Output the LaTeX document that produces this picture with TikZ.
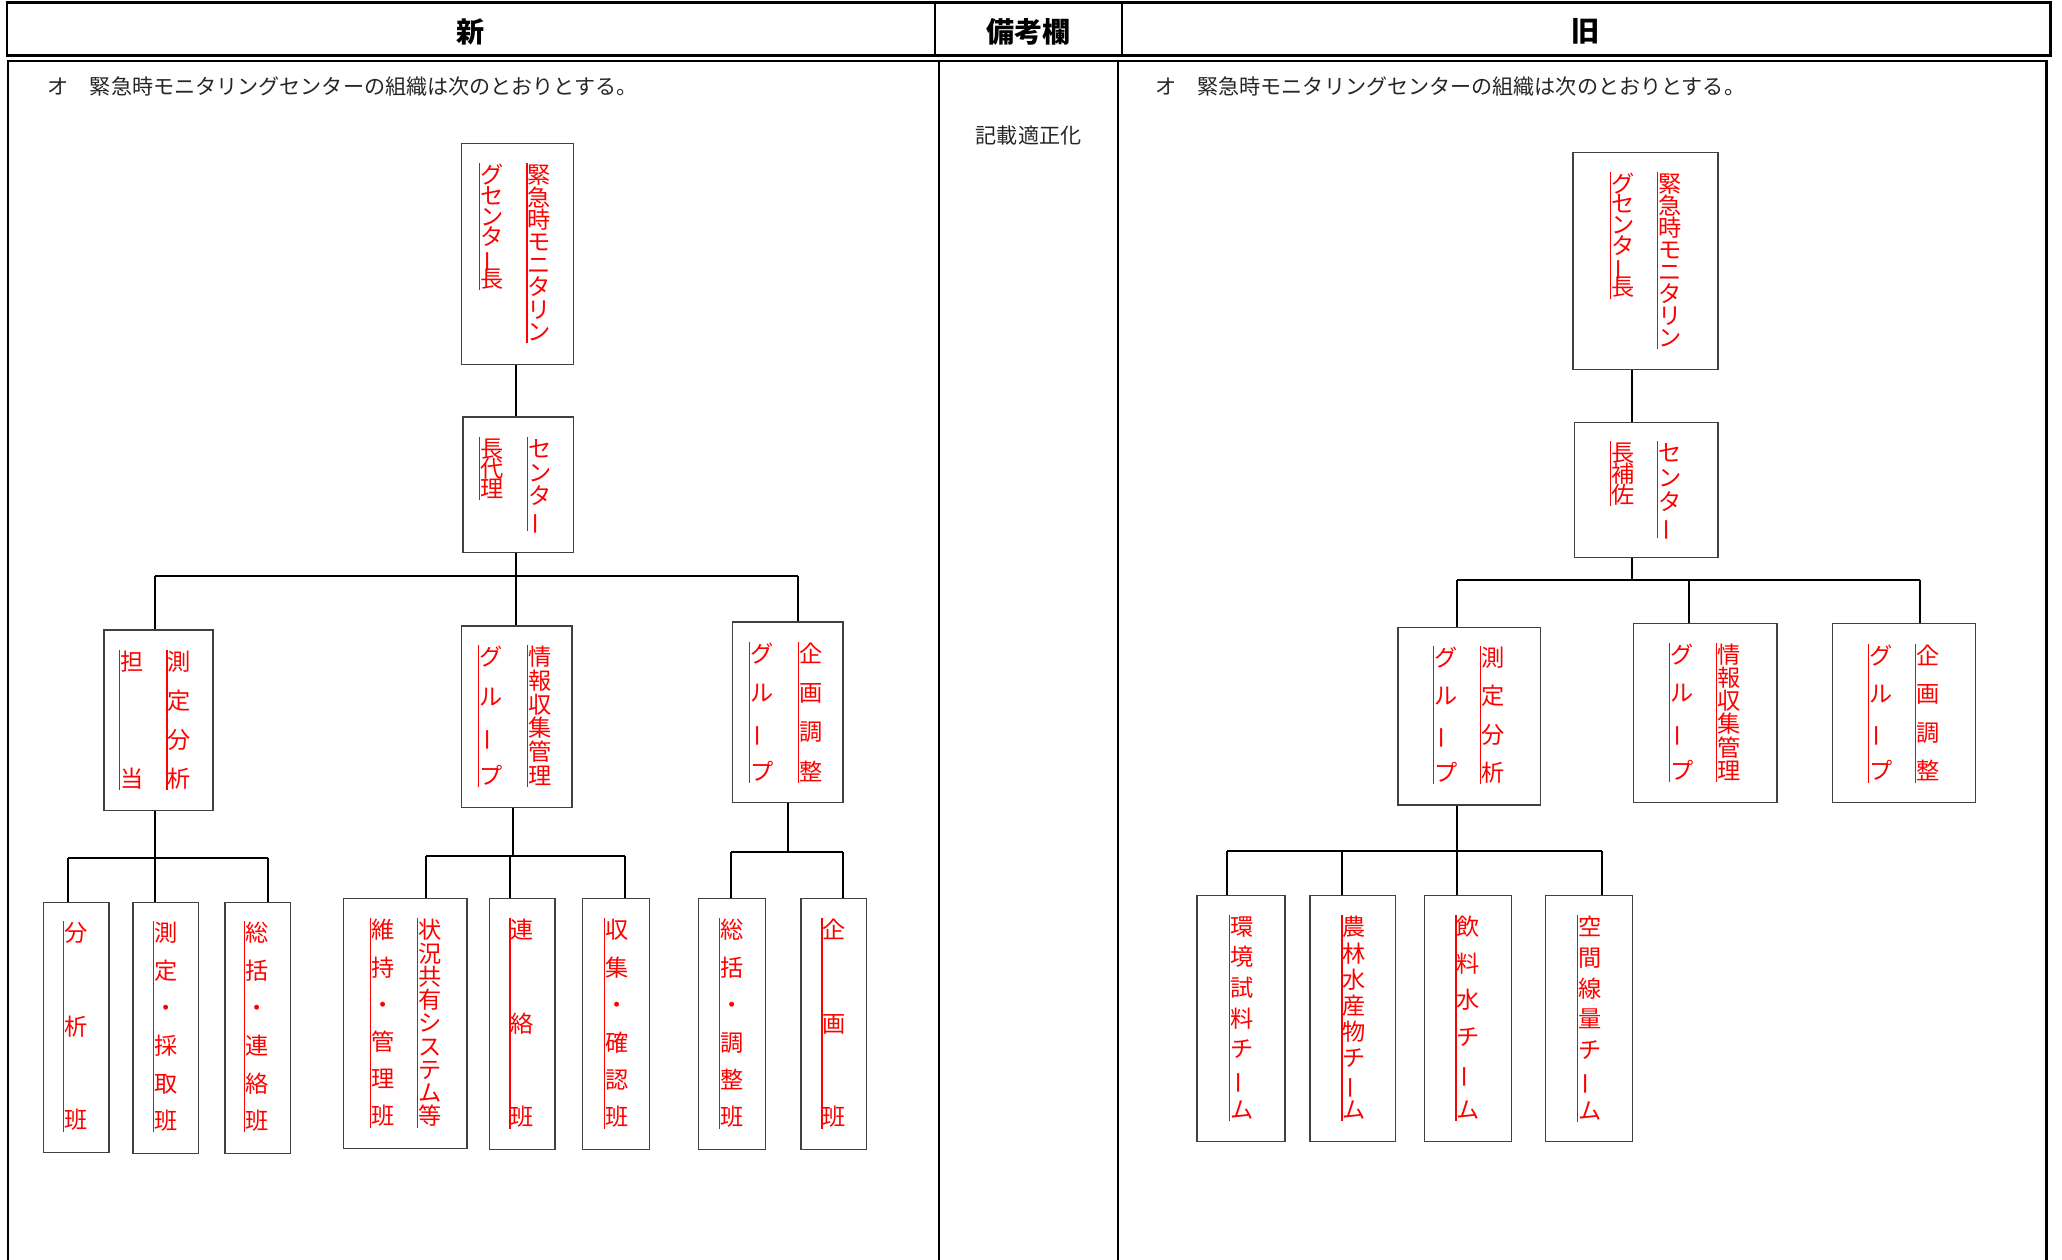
\documentclass[tikz,border=0pt]{standalone}
\usepackage{fontspec}
\setmainfont{Noto Sans CJK JP}
\usepackage{graphicx}
\usepackage{tikz}
\usetikzlibrary{fit}

\newcommand\vl[1]{\rotatebox[origin=c]{90}{#1}}
\newcommand\vcol[5]{%
  \draw[uline] (#2,#3) -- (#2,#4);
  \foreach \ch [count=\k] in {#5} {\xdef\vnum{\k}}
  \foreach \ch [count=\k] in {#5} {
    \pgfmathsetmacro\vy{#3+8.8+(\k-1)*(#4-#3-17.6)/max(\vnum-1,1)}
    \node[vchar] (#1-\k) at (#2+9.5,\vy) {\ch};
  }
}

\begin{document}
\begin{tikzpicture}[x=0.01973cm,y=-0.01973cm,
    frame/.style={line width=1pt},
    unit/.style={draw=black!75,line width=0.6pt,inner sep=0pt},
    link/.style={line width=0.8pt},
    uline/.style={red,line width=0.5pt},
    vchar/.style={red,inner sep=0pt,font=\fontsize{9.9pt}{10pt}\selectfont,text height=0.88em,text depth=0.12em},
    head/.style={font=\fontsize{12pt}{14pt}\selectfont\bfseries,inner sep=0pt},
    plain/.style={font=\fontsize{9pt}{11pt}\selectfont,text=black!85,inner sep=0pt}]
  \useasboundingbox (0,0) rectangle (1567.7,957.9);

  \draw[frame] (5.5,2) rectangle (1559,42.3);
  \draw[frame] (711,2) -- (711,42.3) (852.8,2) -- (852.8,42.3);
  \draw[frame] (6,957.9) -- (6,46.4) -- (1556,46.4) -- (1556,957.9);
  \draw[frame] (714,46.4) -- (714,957.9) (850.2,46.4) -- (850.2,957.9);
  \node[head] (hNew) at (358,24) {新};
  \node[head] (hNote) at (782,24) {備考欄};
  \node[head] (hOld) at (1205.5,24) {旧};
  \node[plain,anchor=west] (tNew) at (36,66) {オ　緊急時モニタリングセンターの組織は次のとおりとする。};
  \node[plain,anchor=west] (tOld) at (878,66) {オ　緊急時モニタリングセンターの組織は次のとおりとする。};
  \node[plain] (tNote) at (782,103) {記載適正化};

  \node[unit,fit={(351,109)(436,277)}] (lChief) {};
  \vcol{lChiefR}{400.7}{124}{261}{緊,急,時,モ,ニ,タ,リ,ン}
  \vcol{lChiefL}{364.4}{124}{220.7}{グ,セ,ン,タ,\vl{ー},長}
  \node[unit,fit={(352,317)(436,420)}] (lDep) {};
  \vcol{lDepR}{401}{332}{404}{セ,ン,タ,\vl{ー}}
  \vcol{lDepL}{364.6}{332}{380}{長,代,理}

  \node[unit,fit={(79,479)(162,616)}] (lSokutei) {};
  \vcol{lSokuteiR}{127}{494}{600.7}{測,定,分,析}
  \vcol{lSokuteiL}{90.6}{494}{600.7}{担,当}
  \node[unit,fit={(351,476)(435,614)}] (lJoho) {};
  \vcol{lJohoR}{400.9}{490.4}{598.4}{情,報,収,集,管,理}
  \vcol{lJohoL}{363.8}{490.4}{598.4}{グ,ル,\vl{ー},プ}
  \node[unit,fit={(557,473)(641,610)}] (lKikaku) {};
  \vcol{lKikakuR}{606.9}{487.8}{595.2}{企,画,調,整}
  \vcol{lKikakuL}{569.8}{487.8}{595.2}{グ,ル,\vl{ー},プ}

  \node[unit,fit={(33,686)(83,876)}] (lBunseki) {};
  \vcol{lBunsekiC}{48.2}{700.4}{860.3}{分,析,班}
  \node[unit,fit={(101,686)(151,877)}] (lSaishu) {};
  \vcol{lSaishuC}{116.7}{700.3}{861}{測,定,・,採,取,班}
  \node[unit,fit={(171,686)(221,877)}] (lRenraku) {};
  \vcol{lRenrakuC}{186}{700.3}{861}{総,括,・,連,絡,班}
  \node[unit,fit={(261,683)(355,873)}] (lSystem) {};
  \vcol{lSystemR}{317.7}{698.2}{857.3}{状,況,共,有,シ,ス,テ,ム,等}
  \vcol{lSystemL}{281.7}{698.2}{857.3}{維,持,・,管,理,班}
  \node[unit,fit={(372,683)(422,874)}] (lRenraku2) {};
  \vcol{lRenraku2C}{387.7}{698.2}{858}{連,絡,班}
  \node[unit,fit={(443,683)(494,874)}] (lKakunin) {};
  \vcol{lKakuninC}{459.6}{698.2}{858}{収,集,・,確,認,班}
  \node[unit,fit={(531,683)(582,874)}] (lChosei) {};
  \vcol{lChoseiC}{547.3}{698.2}{858}{総,括,・,調,整,班}
  \node[unit,fit={(609,683)(659,874)}] (lKikakuH) {};
  \vcol{lKikakuHC}{624.9}{698.2}{858}{企,画,班}

  \coordinate (jA1) at (118,438);
  \coordinate (jA2) at (392,438);
  \coordinate (jA3) at (607,438);
  \draw[link] (lChief.south -| jA2) -- (lDep.north -| jA2);
  \draw[link] (lDep.south -| jA2) -- (jA2);
  \draw[link] (jA1) -- (jA3);
  \foreach \j/\n in {jA1/lSokutei,jA2/lJoho,jA3/lKikaku}
    \draw[link] (\j) -- (\n.north -| \j);
  \coordinate (jB1) at (52,652);
  \coordinate (jB2) at (118,652);
  \coordinate (jB3) at (204,652);
  \draw[link] (lSokutei.south -| jB2) -- (jB2);
  \draw[link] (jB1) -- (jB3);
  \foreach \j/\n in {jB1/lBunseki,jB2/lSaishu,jB3/lRenraku}
    \draw[link] (\j) -- (\n.north -| \j);
  \coordinate (jC0) at (390,651);
  \coordinate (jC1) at (324,651);
  \coordinate (jC2) at (388,651);
  \coordinate (jC3) at (475,651);
  \draw[link] (lJoho.south -| jC0) -- (jC0);
  \draw[link] (jC1) -- (jC3);
  \foreach \j/\n in {jC1/lSystem,jC2/lRenraku2,jC3/lKakunin}
    \draw[link] (\j) -- (\n.north -| \j);
  \coordinate (jD1) at (556,648);
  \coordinate (jD2) at (641,648);
  \draw[link] (lKikaku.south) -- (lKikaku.south |- jD1);
  \draw[link] (jD1) -- (jD2);
  \foreach \j/\n in {jD1/lChosei,jD2/lKikakuH}
    \draw[link] (\j) -- (\n.north -| \j);

  \node[unit,fit={(1196,116)(1306,281)}] (rChief) {};
  \vcol{rChiefR}{1260.4}{130.6}{265.4}{緊,急,時,モ,ニ,タ,リ,ン}
  \vcol{rChiefL}{1224.3}{130.6}{227}{グ,セ,ン,タ,\vl{ー},長}
  \node[unit,fit={(1197,321)(1306,424)}] (rDep) {};
  \vcol{rDepR}{1260.4}{335.5}{408.7}{セ,ン,タ,\vl{ー}}
  \vcol{rDepL}{1224.3}{335.5}{384.8}{長,補,佐}

  \node[unit,fit={(1063,477)(1171,612)}] (rSokutei) {};
  \vcol{rSokuteiR}{1125.8}{491.3}{596.2}{測,定,分,析}
  \vcol{rSokuteiL}{1089.8}{491.3}{596.2}{グ,ル,\vl{ー},プ}
  \node[unit,fit={(1242,474)(1351,610)}] (rJoho) {};
  \vcol{rJohoR}{1305.3}{488.7}{594.5}{情,報,収,集,管,理}
  \vcol{rJohoL}{1269.2}{488.7}{594.5}{グ,ル,\vl{ー},プ}
  \node[unit,fit={(1393,474)(1502,610)}] (rKikaku) {};
  \vcol{rKikakuR}{1456.6}{489.5}{595}{企,画,調,整}
  \vcol{rKikakuL}{1420.5}{489.5}{595}{グ,ル,\vl{ー},プ}

  \node[unit,fit={(910,681)(977,868)}] (rKankyo) {};
  \vcol{rKankyoC}{934.9}{695.6}{852.5}{環,境,試,料,チ,\vl{ー},ム}
  \node[unit,fit={(996,681)(1061,868)}] (rNorin) {};
  \vcol{rNorinC}{1020.3}{696}{852.5}{農,林,水,産,物,チ,\vl{ー},ム}
  \node[unit,fit={(1083,681)(1149,868)}] (rInryo) {};
  \vcol{rInryoC}{1106.9}{695.6}{852.5}{飲,料,水,チ,\vl{ー},ム}
  \node[unit,fit={(1175,681)(1241,868)}] (rKukan) {};
  \vcol{rKukanC}{1199.2}{696}{853}{空,間,線,量,チ,\vl{ー},ム}

  \coordinate (jR0) at (1241,441);
  \coordinate (jR1) at (1108,441);
  \coordinate (jR2) at (1284,441);
  \coordinate (jR3) at (1460,441);
  \draw[link] (rChief.south -| jR0) -- (rDep.north -| jR0);
  \draw[link] (rDep.south -| jR0) -- (jR0);
  \draw[link] (jR1) -- (jR3);
  \foreach \j/\n in {jR1/rSokutei,jR2/rJoho,jR3/rKikaku}
    \draw[link] (\j) -- (\n.north -| \j);
  \coordinate (jS1) at (933,647);
  \coordinate (jS2) at (1020,647);
  \coordinate (jS3) at (1108,647);
  \coordinate (jS4) at (1218,647);
  \draw[link] (rSokutei.south -| jS3) -- (jS3);
  \draw[link] (jS1) -- (jS4);
  \foreach \j/\n in {jS1/rKankyo,jS2/rNorin,jS3/rInryo,jS4/rKukan}
    \draw[link] (\j) -- (\n.north -| \j);
\end{tikzpicture}
\end{document}
